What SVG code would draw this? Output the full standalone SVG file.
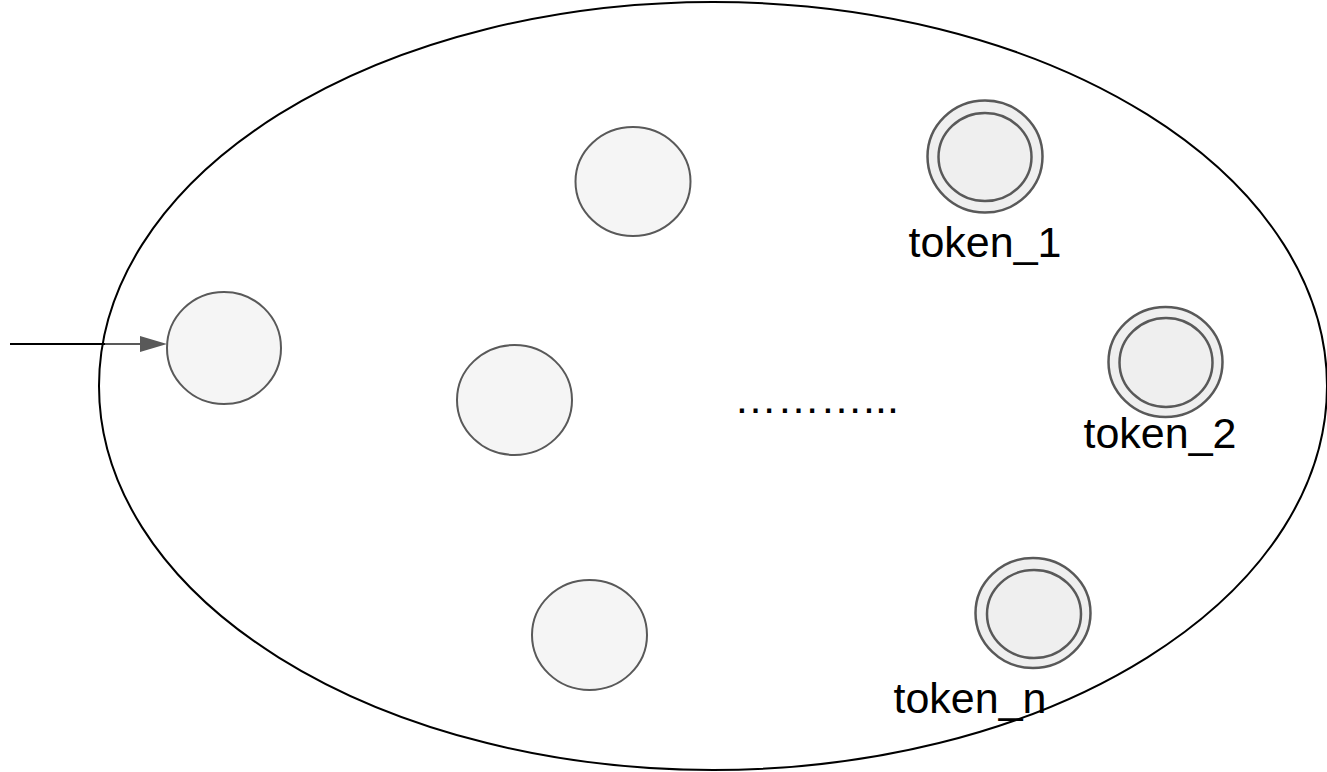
<svg xmlns="http://www.w3.org/2000/svg" width="1327" height="772" viewBox="0 0 1327 772">
  <style>
    .state { fill: #f5f5f5; stroke: #595959; stroke-width: 2; }
    .accept { fill: #efefef; stroke: #595959; stroke-width: 2.5; }
    .label { font-family: "Liberation Sans", Arial, sans-serif; font-size: 43px; fill: #000; text-anchor: middle; }
  </style>
  <defs>
    <marker id="arrowhead" markerWidth="10" markerHeight="10" refX="9" refY="5" orient="auto" markerUnits="userSpaceOnUse" viewBox="0 0 10 10">
      <path d="M0,0 L10,5 L0,10 Z" fill="#595959"/>
    </marker>
  </defs>
  <rect width="1327" height="772" fill="#ffffff"/>

  <!-- outer boundary -->
  <g id="boundary">
    <ellipse cx="713" cy="386" rx="614" ry="384" fill="none" stroke="#000" stroke-width="2"/>
  </g>

  <!-- connectors -->
  <g id="connectors">
    <line x1="10" y1="344" x2="105" y2="344" stroke="#000" stroke-width="2"/>
    <line x1="105" y1="344" x2="140" y2="344" stroke="#595959" stroke-width="2"/>
    <path d="M140,336 L167,344 L140,352 Z" fill="#595959"/>
  </g>

  <g id="start">
    <ellipse class="state" cx="224" cy="348" rx="57" ry="56"/>
  </g>
  <g id="state-a">
    <ellipse class="state" cx="633" cy="181.5" rx="57.5" ry="54.5"/>
  </g>
  <g id="state-b">
    <ellipse class="state" cx="514.5" cy="400" rx="57.5" ry="55"/>
  </g>
  <g id="state-c">
    <ellipse class="state" cx="589.5" cy="635" rx="57.5" ry="55"/>
  </g>

  <g id="ellipsis">
    <text class="label" x="734" y="413" style="text-anchor:start">………...</text>
  </g>

  <g id="token-1">
    <ellipse class="accept" cx="985" cy="156.5" rx="57.5" ry="56"/>
    <ellipse class="accept" cx="985" cy="157" rx="46.5" ry="44"/>
    <text class="label" x="985" y="257">token_1</text>
  </g>
  <g id="token-2">
    <ellipse class="accept" cx="1165.5" cy="362" rx="57" ry="55"/>
    <ellipse class="accept" cx="1166" cy="362.5" rx="46.5" ry="44.5"/>
    <text class="label" x="1160" y="448">token_2</text>
  </g>
  <g id="token-n">
    <ellipse class="accept" cx="1033" cy="613" rx="57.5" ry="55"/>
    <ellipse class="accept" cx="1034" cy="614" rx="47" ry="44"/>
    <text class="label" x="970" y="713">token_n</text>
  </g>
</svg>
